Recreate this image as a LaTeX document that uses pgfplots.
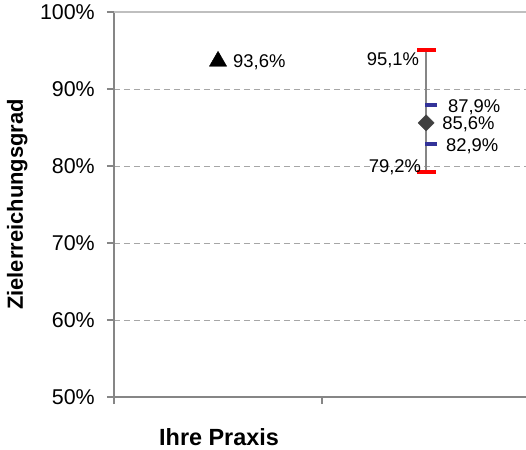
\documentclass[border=0pt]{standalone}
\usepackage{fontspec}
\setmainfont{Liberation Sans}
\usepackage{pgfplots}
\pgfplotsset{compat=1.18}
\definecolor{axgray}{HTML}{868686}
\definecolor{gridgray}{HTML}{A6A6A6}
\definecolor{topgray}{HTML}{BFBFBF}
\definecolor{barblue}{HTML}{333399}
\definecolor{diagray}{HTML}{404040}
\pgfplotsset{
  lbl/.style 2 args={nodes near coords={\pgfmathprintnumber[fixed,fixed zerofill,precision=1,use comma]{\pgfplotspointmeta}\%},
    every node near coord/.append style={#1, inner sep=0pt, text=black, font=\fontsize{18.5}{22}\selectfont, #2}},
}
\begin{document}
\begin{tikzpicture}
\begin{axis}[
  name=ax, at={(0,0)}, anchor=south west,
  scale only axis, width=412bp, height=385bp,
  xmin=0, xmax=1.98, ymin=50, ymax=100,
  axis x line=bottom, axis y line=left,
  axis line style={-, axgray, line width=1.6bp},
  xtick={0,1,2}, xticklabels={},
  ytick={50,60,...,100},
  yticklabel={\pgfmathprintnumber{\tick}\%},
  /pgf/number format/assume math mode=true,
  tick align=outside, major tick length=7bp,
  tick style={axgray, line width=1.6bp},
  ymajorgrids, grid style={gridgray, line width=0.8bp, dash pattern=on 6bp off 4bp},
  yticklabel style={font=\fontsize{21.5}{24}\selectfont, inner sep=0pt, xshift=-12bp},
  clip=false,
  xlabel={Ihre Praxis},
  xlabel style={at={(axis description cs:0.255,-0.104)}, anchor=center, font=\bfseries\fontsize{23.5}{27}\selectfont},
  ylabel={Zielerreichungsgrad},
  ylabel style={at={(axis description cs:-0.235,0.5)}, anchor=center, rotate=0, font=\bfseries\fontsize{22}{26}\selectfont},
]
\draw[topgray, line width=1.6bp] (rel axis cs:0,1) -- (rel axis cs:1,1);
% Ihre Praxis
\addplot[only marks, mark=triangle*, mark size=10bp, black, lbl={anchor=west}{xshift=15bp, yshift=-1bp}] coordinates {(0.5,93.6)};
% range line
\addplot[axgray, line width=1.4bp, no marks] coordinates {(1.5,79.2) (1.5,95.1)};
% caps
\addplot[only marks, mark=-, mark size=9.5bp, red, mark options={line width=4bp}, lbl={anchor=east}{xshift=-5bp, yshift=-11bp}] coordinates {(1.5,95.1)};
\addplot[only marks, mark=-, mark size=9.5bp, red, mark options={line width=4bp}, lbl={anchor=east}{xshift=-3bp, yshift=5bp}] coordinates {(1.5,79.2)};
% quartiles
\addplot[only marks, mark=-, mark size=6bp, barblue, mark options={xshift=5bp, line width=4bp}, lbl={anchor=west}{xshift=15bp, yshift=-2bp}] coordinates {(1.5,87.9)};
\addplot[only marks, mark=-, mark size=6bp, barblue, mark options={xshift=5bp, line width=4bp}, lbl={anchor=west}{xshift=13bp, yshift=-3bp}] coordinates {(1.5,82.9)};
% mean
\addplot[only marks, mark=square*, mark size=5.7bp, diagray, mark options={rotate=45}, lbl={anchor=west}{xshift=16bp, yshift=-1bp}] coordinates {(1.5,85.6)};
\end{axis}
\pgfresetboundingbox
\path (-114bp,-53bp) rectangle (412bp,397bp);
\end{tikzpicture}
\end{document}
